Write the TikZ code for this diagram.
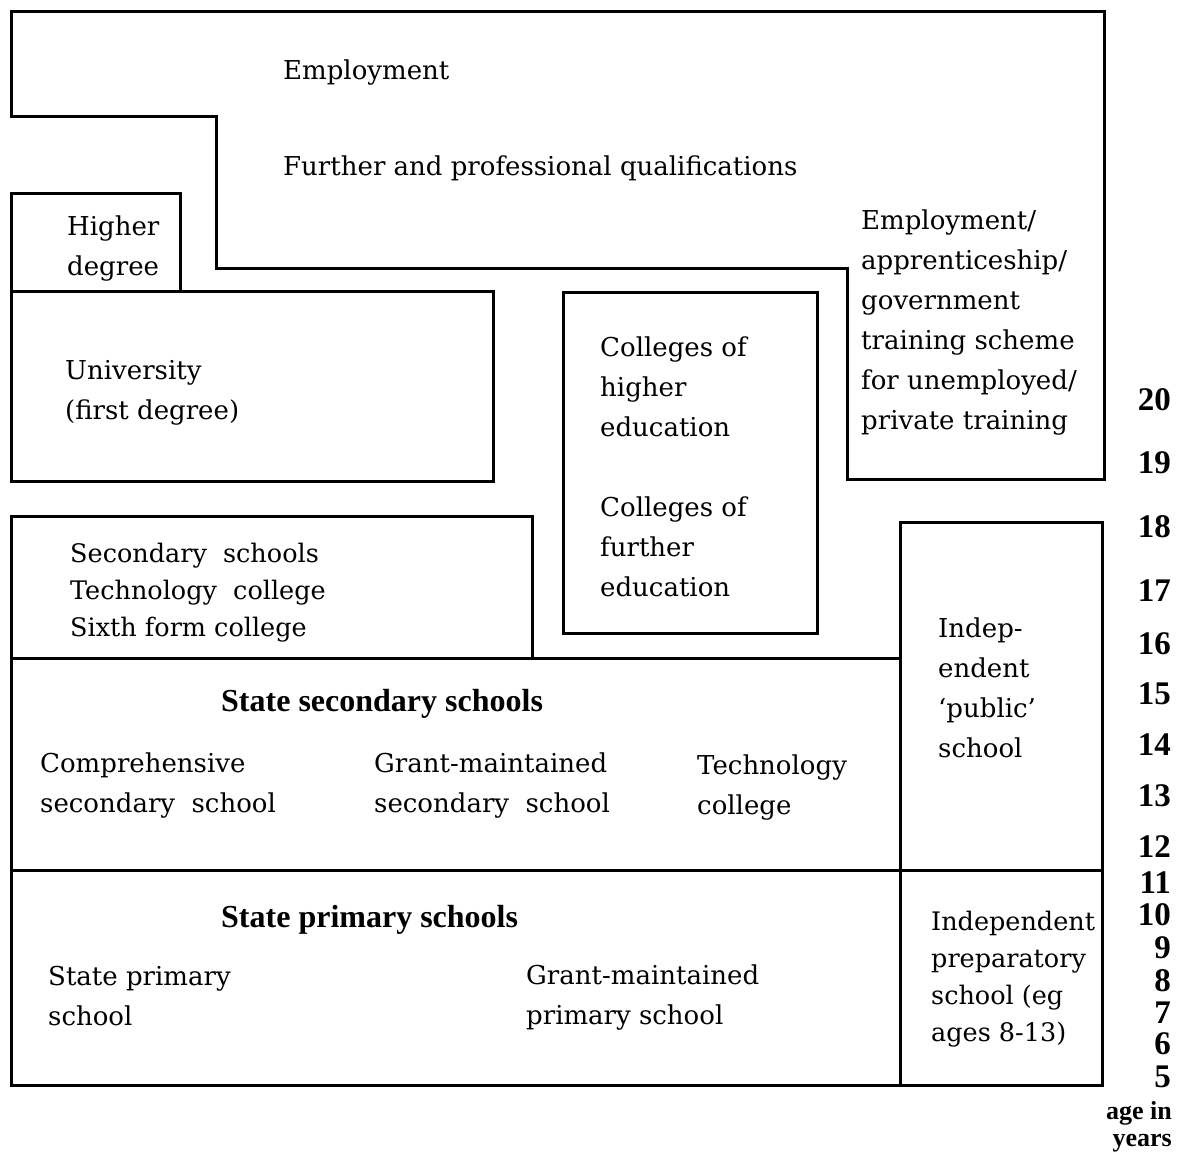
\documentclass[tikz,border=0pt]{standalone}
\usepackage{fontspec}
\setmainfont{DejaVu Serif}
\newfontfamily\headfont{Liberation Serif}
\begin{document}
\begin{tikzpicture}[x=1pt,y=-1pt,
  box/.style={draw=black,line width=3pt,line join=miter},
  txt/.style={anchor=west,align=left,inner sep=0pt,font=\fontsize{26}{40}\selectfont},
  txtb/.style={txt,font=\fontsize{25.5}{37}\selectfont},
  head/.style={anchor=west,inner sep=0pt,font=\headfont\bfseries\fontsize{32}{36}\selectfont},
  age/.style={anchor=east,inner sep=0pt,font=\headfont\bfseries\fontsize{33}{36}\selectfont},
  agel/.style={anchor=east,inner sep=0pt,font=\headfont\bfseries\fontsize{26}{30}\selectfont}]
\useasboundingbox (0,0) rectangle (1180,1156);
% boxes
\draw[box] (11,12) -- (1104,12) -- (1104,479) -- (847,479) -- (847,268) -- (216,268) -- (216,116) -- (11,116) -- cycle;
\draw[box] (11,193) rectangle (180,291);
\draw[box] (11,291) rectangle (493,481);
\draw[box] (563,292) rectangle (817,633);
\draw[box] (11,516) rectangle (532,658);
\draw[box] (11,658) rectangle (900,870);
\draw[box] (900,522) rectangle (1102,870);
\draw[box] (11,870) rectangle (900,1085);
\draw[box] (900,870) rectangle (1102,1085);
% texts
\node[txt] (emp) at (283,73) {Employment};
\node[txt] (fur) at (283,168) {Further and professional qualifications};
\node[txt] (hd) at (67,249) {Higher\\degree};
\node[txt] (appr) at (861,323) {Employment/\\apprenticeship/\\government\\training scheme\\for unemployed/\\private training};
\node[txt] (uni) at (65,393) {University\\(first degree)};
\node[txt] (che) at (600,387) {Colleges of\\higher\\education};
\node[txt] (cfe) at (600,547) {Colleges of\\further\\education};
\node[txtb] (sec) at (70,593) {Secondary~~schools\\Technology~~college\\Sixth form college};
\node[head] (ssh) at (221,704) {State secondary schools};
\node[txt] (comp) at (40,786) {Comprehensive\\secondary~~school};
\node[txt] (gms) at (374,786) {Grant-maintained\\secondary~~school};
\node[txt] (tech) at (697,788) {Technology\\college};
\node[txt] (ips) at (938,688) {Indep-\\endent\\`public'\\school};
\node[head] (sph) at (221,920) {State primary schools};
\node[txt] (sps) at (48,996) {State primary\\school};
\node[txt] (gmp) at (526,997) {Grant-maintained\\primary school};
\node[txtb] (prep) at (931,979) {Independent\\preparatory\\school (eg\\ages 8-13)};
% ages
\node[age] (a20) at (1171,400) {20};
\node[age] (a19) at (1171,463) {19};
\node[age] (a18) at (1171,527) {18};
\node[age] (a17) at (1171,591) {17};
\node[age] (a16) at (1171,644) {16};
\node[age] (a15) at (1171,694) {15};
\node[age] (a14) at (1171,745) {14};
\node[age] (a13) at (1171,796) {13};
\node[age] (a12) at (1171,847) {12};
\node[age] (a11) at (1171,883) {11};
\node[age] (a10) at (1171,915) {10};
\node[age] (a9) at (1171,948) {9};
\node[age] (a8) at (1171,981) {8};
\node[age] (a7) at (1171,1013) {7};
\node[age] (a6) at (1171,1044) {6};
\node[age] (a5) at (1171,1077) {5};
\node[agel] (ai) at (1172,1113) {age in};
\node[agel] (ay) at (1172,1143) {years};
\end{tikzpicture}
\end{document}
